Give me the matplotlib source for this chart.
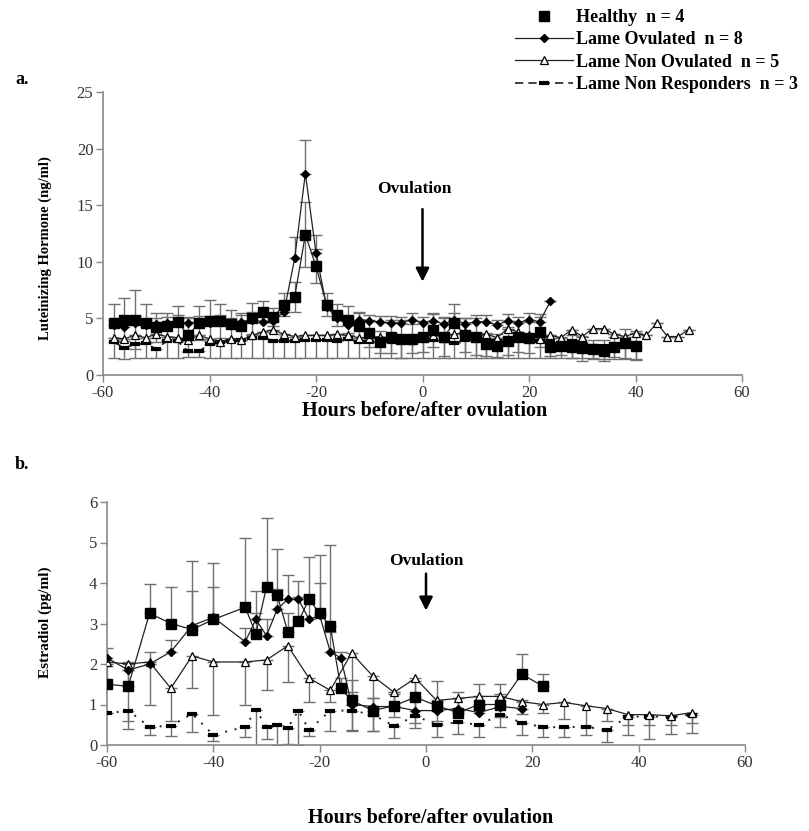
import matplotlib
matplotlib.use("Agg")
import matplotlib.pyplot as plt
from matplotlib.lines import Line2D

plt.rcParams['font.family'] = ['Liberation Serif', 'DejaVu Serif']
plt.rcParams['axes.unicode_minus'] = False

# ---------------- panel a : LH ----------------
hrs_a_healthy = list(range(-58, 41, 2))
lh_healthy = [4.6, 4.9, 4.9, 4.6, 4.2, 4.3, 4.7, 3.5, 4.6, 4.8, 4.8, 4.5, 4.3, 5.0, 5.6, 5.1, 6.2, 6.9, 12.4, 9.6,
              6.2, 5.3, 4.9, 4.3, 3.7, 2.9, 3.4, 3.2, 3.2, 3.4, 4.0, 3.4, 4.6, 3.5, 3.4, 2.7, 2.6, 3.0, 3.4, 3.3,
              3.8, 2.5, 2.6, 2.5, 2.35, 2.3, 2.15, 2.5, 2.8, 2.6]
lh_healthy_err = [1.7, 1.9, 2.6, 1.7, 1.3, 1.2, 1.4, 1.5, 1.5, 1.8, 1.5, 1.2, 1.2, 1.4, 0.9, 0.8, 1.0, 1.3, 2.9, 1.5,
                  1.0, 1.0, 1.2, 1.3, 1.2, 1.0, 1.5, 1.7, 1.3, 1.4, 1.5, 1.7, 1.7, 1.5, 1.6, 1.0, 1.0, 1.2, 1.4, 1.4,
                  1.3, 0.8, 0.8, 1.0, 1.1, 0.8, 0.9, 0.9, 1.3, 1.3]

hrs_a_lo = list(range(-58, 25, 2))
lh_lo = [4.4, 4.2, 4.6, 4.4, 4.5, 4.6, 4.7, 4.6, 4.7, 4.6, 4.8, 4.5, 4.7, 4.9, 4.7, 4.8, 5.6, 10.3, 17.8, 10.8,
         6.0, 5.0, 4.4, 4.9, 4.8, 4.7, 4.6, 4.6, 4.9, 4.6, 4.8, 4.5, 4.9, 4.5, 4.7, 4.7, 4.4, 4.8, 4.6, 4.9,
         4.7, 6.5]
lh_lo_err = [0.5, 0.4, 0.6, 0.5, 0.5, 0.5, 0.6, 0.5, 0.5, 0.6, 0.5, 0.5, 0.6, 0.7, 0.8, 0.6, 0.8, 1.9, 3.0, 1.6,
             0.6, 0.5, 0.5, 0.6, 0.5, 0.5, 0.6, 0.5, 0.6, 0.5, 0.6, 0.5, 0.6, 0.5, 0.6, 0.6, 0.5, 0.6, 0.5, 0.6,
             0.7, 0.0]

hrs_a_lno = list(range(-58, 51, 2))
lh_lno = [3.3, 3.2, 3.5, 3.3, 3.6, 3.4, 3.3, 3.1, 3.5, 3.2, 2.9, 3.2, 3.1, 3.5, 3.8, 4.0, 3.6, 3.4, 3.5, 3.5,
          3.5, 3.6, 3.5, 3.3, 3.3, 3.4, 3.2, 3.3, 3.1, 3.4, 3.5, 3.4, 3.6, 3.8, 3.4, 3.6, 3.3, 4.1, 3.8, 3.5,
          3.2, 3.5, 3.3, 4.0, 3.4, 4.1, 4.1, 3.6, 3.4, 3.7, 3.5, 4.6, 3.4, 3.4, 4.0]

hrs_a_lnr = list(range(-58, 41, 2))
lh_lnr = [2.9, 2.4, 2.7, 2.8, 2.3, 3.0, 3.0, 2.1, 2.1, 2.7, 2.9, 3.0, 3.1, 3.3, 3.3, 3.0, 3.0, 3.0, 3.1, 3.1,
          3.1, 3.0, 3.2, 2.9, 2.9, 3.0, 3.0, 3.1, 3.1, 3.1, 3.1, 3.0, 2.8, 3.1, 3.1, 3.0, 3.0, 3.1, 3.2, 3.2,
          3.0, 2.9, 2.8, 3.0, 2.9, 2.6, 2.6, 2.5, 2.6, 2.5]
lh_lnr_err = [1.4, 1.0, 1.2, 1.3, 0.8, 1.5, 1.5, 0.5, 0.5, 1.2, 1.4, 1.5, 1.6, 1.8, 1.8, 1.5, 1.5, 1.5, 1.6, 1.6,
              1.6, 1.5, 1.7, 1.4, 1.4, 1.5, 1.5, 1.6, 1.6, 1.6, 1.6, 1.5, 1.3, 1.6, 1.6, 1.5, 1.5, 1.6, 1.7, 1.7,
              1.5, 1.4, 1.3, 1.5, 1.4, 1.2, 1.2, 1.1, 1.2, 1.1]

# ---------------- panel b : estradiol ----------------
hrs_b_healthy = [-60, -56, -52, -48, -44, -40, -34, -32, -30, -28, -26, -24, -22, -20, -18, -16, -14, -10, -6, -2,
                 2, 6, 10, 14, 18, 22]
e2_healthy = [1.5, 1.45, 3.25, 3.0, 2.85, 3.1, 3.4, 2.75, 3.9, 3.7, 2.8, 3.05, 3.6, 3.25, 2.93, 1.4, 1.1, 0.85,
              0.97, 1.18, 0.97, 0.8, 1.0, 1.0, 1.75, 1.45]
e2_healthy_err = [0.5, 0.4, 0.73, 0.9, 1.7, 1.4, 1.7, 0.5, 1.7, 1.15, 0.45, 0.6, 1.05, 1.45, 2.0, 0.25, 0.5, 0.3,
                  0.35, 0.4, 0.6, 0.5, 0.5, 0.5, 0.5, 0.3]

hrs_b_lo = [-60, -56, -52, -48, -44, -40, -34, -32, -30, -28, -26, -24, -22, -20, -18, -16, -14, -10, -6, -2,
            2, 6, 10, 14, 18]
e2_lo = [2.15, 1.85, 2.0, 2.3, 2.95, 3.15, 2.55, 3.1, 2.7, 3.35, 3.6, 3.6, 3.1, 3.2, 2.3, 2.15, 1.0, 0.95, 0.95,
         0.85, 0.85, 0.9, 0.8, 0.95, 0.9]
e2_lo_err = [0.25, 0.2, 0.3, 0.3, 0.85, 0.75, 0.35, 0.7, 0.4, 0.5, 0.6, 0.45, 0.6, 0.8, 0.5, 0.15, 0.3, 0.2, 0.3,
             0.25, 0.2, 0.25, 0.2, 0.3, 0.2]

hrs_b_lno = [-60, -56, -52, -48, -44, -40, -34, -30, -26, -22, -18, -14, -10, -6, -2, 2, 6, 10, 14, 18, 22, 26,
             30, 34, 38, 42, 46, 50]
e2_lno = [2.05, 2.0, 2.05, 1.4, 2.2, 2.05, 2.05, 2.1, 2.45, 1.65, 1.35, 2.27, 1.7, 1.3, 1.65, 1.1, 1.15, 1.2,
          1.2, 1.07, 1.0, 1.05, 0.97, 0.9, 0.75, 0.75, 0.72, 0.8]
e2_lno_err = [0.1, 1.4, 1.05, 0.8, 0.8, 1.3, 1.05, 0.75, 0.9, 0.6, 0.3, 1.9, 1.35, 0.6, 1.1, 0.5, 0.3, 0.3, 0.5,
              0.3, 0.2, 0.4, 0.5, 0.3, 0.5, 0.6, 0.45, 0.5]

hrs_b_lnr = [-60, -56, -52, -48, -44, -40, -34, -32, -30, -28, -26, -24, -22, -18, -14, -10, -6, -2, 2, 6, 10,
             14, 18, 22, 26, 30, 34, 38, 42, 46, 50]
e2_lnr = [0.78, 0.85, 0.45, 0.47, 0.77, 0.25, 0.45, 0.87, 0.45, 0.5, 0.42, 0.85, 0.37, 0.85, 0.85, 0.75, 0.47,
          0.72, 0.5, 0.56, 0.5, 0.75, 0.55, 0.44, 0.44, 0.45, 0.37, 0.7, 0.7, 0.7, 0.75]
e2_lnr_err = [0.0, 0.45, 0.2, 0.25, 0.45, 0.15, 0.25, 0.9, 0.3, 0.5, 0.4, 0.85, 0.15, 0.5, 0.5, 0.4, 0.3, 0.3,
              0.3, 0.3, 0.3, 0.3, 0.3, 0.25, 0.25, 0.2, 0.3, 0.2, 0.2, 0.2, 0.2]

labels = ['Healthy  n = 4', 'Lame Ovulated  n = 8', 'Lame Non Ovulated  n = 5', 'Lame Non Responders  n = 3']

LC = '#222222'
EC = '#707070'


def style_axis(ax, ymax, ystep):
    ax.set_xlim(-60, 60)
    ax.set_ylim(0, ymax)
    ax.set_xticks(range(-60, 61, 20))
    ax.set_yticks(range(0, ymax + 1, ystep))
    for s in ['top', 'right']:
        ax.spines[s].set_visible(False)
    for s in ['left', 'bottom']:
        ax.spines[s].set_color('#888888')
        ax.spines[s].set_linewidth(1.2)
    ax.tick_params(direction='out', length=5, width=1, color='#888888', labelsize=12,
                   labelcolor='#333333', pad=2)


def draw(ax, x, y, lower=None, upper=None, **kw):
    ax.errorbar(x, y, yerr=[lower if lower is not None else [0] * len(y),
                            upper if upper is not None else [0] * len(y)],
                fmt='none', ecolor=EC, elinewidth=1, capsize=4, capthick=1, zorder=2)
    ax.plot(x, y, zorder=3, **kw)


fig = plt.figure(figsize=(8.09, 8.31), dpi=100)
ax1 = fig.add_axes([103 / 809, 1 - 375 / 831, 639 / 809, 283 / 831])
ax2 = fig.add_axes([107 / 809, 1 - 745 / 831, 638 / 809, 243 / 831])

sq = dict(color=LC, lw=0.9, marker='s', ms=7.5, mfc='black', mec='black')
dm = dict(color=LC, lw=0.9, marker='D', ms=4.5, mfc='black', mec='black')
tr = dict(color=LC, lw=0.9, marker='^', ms=6, mfc='white', mec='black', mew=0.9)
nr_a = dict(color=LC, lw=1.2, ls=(0, (5, 3)), marker='_', ms=7, mew=3, mec='black')
nr_b = dict(color=LC, lw=1.4, ls=(0, (1, 4)), marker='_', ms=7, mew=3, mec='black')

# panel a
draw(ax1, hrs_a_lnr, lh_lnr, lower=lh_lnr_err, **nr_a)
draw(ax1, hrs_a_lno, lh_lno, **tr)
draw(ax1, hrs_a_lo, lh_lo, upper=lh_lo_err, **dm)
draw(ax1, hrs_a_healthy, lh_healthy, lower=lh_healthy_err, upper=lh_healthy_err, **sq)
style_axis(ax1, 25, 5)
ax1.text(-1.5, 16.4, 'Ovulation', ha='center', va='center', fontsize=12.5, fontweight='bold')
ax1.annotate('', xy=(0, 8.0), xytext=(0, 14.9),
             arrowprops=dict(arrowstyle='-|>', color='black', lw=1.8, mutation_scale=20))

# panel b
draw(ax2, hrs_b_lnr, e2_lnr, lower=e2_lnr_err, **nr_b)
draw(ax2, hrs_b_lno, e2_lno, lower=e2_lno_err, **tr)
draw(ax2, hrs_b_lo, e2_lo, upper=e2_lo_err, **dm)
draw(ax2, hrs_b_healthy, e2_healthy, upper=e2_healthy_err, **sq)
style_axis(ax2, 6, 1)
ax2.text(0, 4.55, 'Ovulation', ha='center', va='center', fontsize=12.5, fontweight='bold')
ax2.annotate('', xy=(0, 3.25), xytext=(0, 4.3),
             arrowprops=dict(arrowstyle='-|>', color='black', lw=1.8, mutation_scale=20))

# axis titles
fig.text(0.525, 1 - 411 / 831, 'Hours before/after ovulation', ha='center', va='center',
         fontsize=14.5, fontweight='bold')
fig.text(0.532, 1 - 818 / 831, 'Hours before/after ovulation', ha='center', va='center',
         fontsize=14.5, fontweight='bold')
fig.text(45 / 809, 1 - 248 / 831, 'Luteinizing Hormone (ng/ml)', rotation=90, ha='center', va='center',
         fontsize=10.5, fontweight='bold')
fig.text(45 / 809, 1 - 622 / 831, 'Estradiol (pg/ml)', rotation=90, ha='center', va='center',
         fontsize=11, fontweight='bold')
fig.text(22 / 809, 1 - 80 / 831, 'a.', ha='center', va='center', fontsize=13, fontweight='bold')
fig.text(22 / 809, 1 - 465 / 831, 'b.', ha='center', va='center', fontsize=13, fontweight='bold')

# legend
handles = [Line2D([], [], ls='none', marker='s', ms=7, mfc='black', mec='black'),
           Line2D([], [], **dm),
           Line2D([], [], **tr),
           Line2D([], [], **nr_a)]
fig.legend(handles, labels, loc='upper right', bbox_to_anchor=(809 / 809, 1 + 2 / 831), frameon=False,
           prop=dict(weight='bold', size=13), handlelength=3.2, handletextpad=0.2, labelspacing=0.3,
           borderpad=0.1)

fig.savefig('out.png', dpi=100)
